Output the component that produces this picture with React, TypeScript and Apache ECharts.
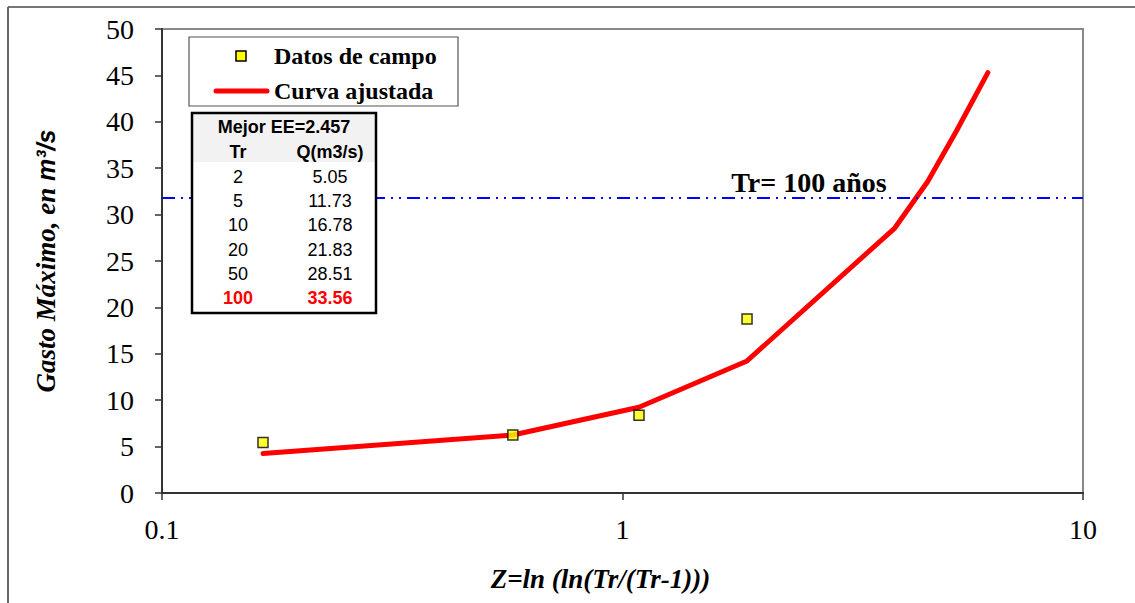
import React, { useEffect, useRef } from "react";
import * as echarts from "echarts";

// Field data (Datos de campo): Z vs Q
const dataZ = [0.1657, 0.578, 1.086, 1.864];
const dataQ = [5.43, 6.25, 8.38, 18.76];

// Fitted curve (Curva ajustada)
const curveZ = [0.1657, 0.578, 1.086, 1.864, 3.902, 4.6, 5.296, 6.214];
const curveQ = [4.25, 6.25, 9.24, 14.23, 28.55, 33.56, 38.9, 45.3];

// Tr = 100 years reference line
const tr100Q = 31.83;
const tr100LabelZ = 2.54;

// Table
const tableTitle = "Mejor EE=2.457";
const tableHeader = ["Tr", "Q(m3/s)"];
const tableTr = ["2", "5", "10", "20", "50", "100"];
const tableQ = ["5.05", "11.73", "16.78", "21.83", "28.51", "33.56"];

const SERIF = "'Liberation Serif', 'Times New Roman', serif";
const SANS = "'Liberation Sans', Arial, sans-serif";

export default function App() {
  const ref = useRef<HTMLDivElement>(null);

  useEffect(() => {
    if (!ref.current) return;
    const chart = echarts.init(ref.current, null, { renderer: "svg" });

    const TZ = 50;
    const tableTexts: any[] = [];
    const rowY0 = 177;
    const rowStep = 24.2;
    tableTr.forEach((tr, i) => {
      const last = i === tableTr.length - 1;
      const style = {
        fontFamily: SANS,
        fontSize: 18,
        fontWeight: last ? "bold" : "normal",
        fill: last ? "#ff0000" : "#000",
        align: "center",
        verticalAlign: "middle",
      };
      tableTexts.push({
        type: "text",
        x: 238,
        y: rowY0 + i * rowStep,
        z: TZ + 3,
        style: { ...style, text: tr },
      });
      tableTexts.push({
        type: "text",
        x: 330,
        y: rowY0 + i * rowStep,
        z: TZ + 3,
        style: { ...style, text: tableQ[i] },
      });
    });

    const option: any = {
      animation: false,
      backgroundColor: "#fff",
      grid: {
        left: 162,
        right: 52,
        top: 29,
        bottom: 110,
        show: true,
        borderColor: "#888",
        borderWidth: 2,
        backgroundColor: "transparent",
      },
      xAxis: {
        type: "log",
        logBase: 10,
        min: 0.1,
        max: 10,
        name: "Z=ln (ln(Tr/(Tr-1)))",
        nameLocation: "middle",
        nameGap: 72,
        nameTextStyle: {
          fontFamily: SERIF,
          fontStyle: "italic",
          fontWeight: "bold",
          fontSize: 27,
          color: "#000",
          padding: [0, 44, 0, 0],
        },
        axisLine: { show: true, onZero: false, lineStyle: { color: "#333", width: 2 } },
        axisTick: { show: true, inside: false, length: 7, lineStyle: { color: "#333", width: 1.5 } },
        minorTick: { show: false },
        splitLine: { show: false },
        axisLabel: {
          fontFamily: SERIF,
          fontSize: 28,
          color: "#000",
          margin: 22,
          formatter: (v: number) => {
            if (Math.abs(v - 0.1) < 1e-9) return "0.1";
            return String(Math.round(v));
          },
        },
      },
      yAxis: {
        type: "value",
        min: 0,
        max: 50,
        interval: 5,
        name: "{a|Gasto Máximo, en }{b|m³/s}",
        nameLocation: "middle",
        nameGap: 103,
        nameTextStyle: {
          rich: {
            a: {
              fontFamily: SERIF,
              fontStyle: "italic",
              fontWeight: "bold",
              fontSize: 27,
              color: "#000",
            },
            b: {
              fontFamily: SANS,
              fontStyle: "italic",
              fontWeight: "bold",
              fontSize: 25,
              color: "#000",
            },
          },
        },
        axisLine: { show: true, lineStyle: { color: "#333", width: 2 } },
        axisTick: { show: true, inside: false, length: 7, lineStyle: { color: "#333", width: 1.5 } },
        splitLine: { show: false },
        axisLabel: {
          fontFamily: SERIF,
          fontSize: 28,
          color: "#000",
          margin: 28,
        },
      },
      series: [
        {
          name: "Curva ajustada",
          type: "line",
          data: curveZ.map((z, i) => [z, curveQ[i]]),
          symbol: "none",
          lineStyle: { color: "#ff0000", width: 5, cap: "round", join: "round" },
          z: 3,
          markLine: {
            silent: true,
            symbol: ["none", "none"],
            label: { show: false },
            lineStyle: { color: "#0000ff", width: 2, type: [13, 6, 2, 6, 2, 6] },
            data: [{ yAxis: tr100Q }],
          },
          markPoint: {
            silent: true,
            symbol: "circle",
            symbolSize: 0,
            data: [
              {
                coord: [tr100LabelZ, tr100Q],
                label: {
                  show: true,
                  position: "top",
                  distance: 1,
                  formatter: "Tr= 100 años",
                  fontFamily: SERIF,
                  fontWeight: "bold",
                  fontSize: 28,
                  color: "#000",
                },
              },
            ],
          },
        },
        {
          name: "Datos de campo",
          type: "scatter",
          data: dataZ.map((z, i) => [z, dataQ[i]]),
          symbol: "rect",
          symbolSize: 10,
          itemStyle: { color: "#ffff00", borderColor: "#000", borderWidth: 1.5 },
          z: 5,
        },
      ],
      graphic: {
        z: 100,
        elements: [
          // outer frame (left and top edges)
          {
            type: "line",
            shape: { x1: 8, y1: 7, x2: 1135, y2: 7 },
            style: { stroke: "#777", lineWidth: 2 },
          },
          {
            type: "line",
            shape: { x1: 8, y1: 7, x2: 8, y2: 603 },
            style: { stroke: "#666", lineWidth: 2 },
          },
          // legend box
          {
            type: "rect",
            z: TZ,
            shape: { x: 189, y: 37, width: 269, height: 69 },
            style: { fill: "#fff", stroke: "#555", lineWidth: 1.2 },
          },
          {
            type: "rect",
            z: TZ + 1,
            shape: { x: 236, y: 51, width: 10, height: 10 },
            style: { fill: "#ffff00", stroke: "#000", lineWidth: 1.5 },
          },
          {
            type: "text",
            z: TZ + 1,
            x: 274,
            y: 56,
            style: {
              text: "Datos de campo",
              fontFamily: SERIF,
              fontWeight: "bold",
              fontSize: 24,
              fill: "#000",
              verticalAlign: "middle",
            },
          },
          {
            type: "line",
            z: TZ + 1,
            shape: { x1: 216, y1: 91, x2: 267, y2: 91 },
            style: { stroke: "#ff0000", lineWidth: 5, lineCap: "round" },
          },
          {
            type: "text",
            z: TZ + 1,
            x: 274,
            y: 91,
            style: {
              text: "Curva ajustada",
              fontFamily: SERIF,
              fontWeight: "bold",
              fontSize: 24,
              fill: "#000",
              verticalAlign: "middle",
            },
          },
          // table
          {
            type: "rect",
            z: TZ,
            shape: { x: 192, y: 113, width: 184, height: 200 },
            style: { fill: "#fff", stroke: "none" },
          },
          {
            type: "rect",
            z: TZ + 1,
            shape: { x: 192, y: 113, width: 184, height: 49 },
            style: { fill: "#f2f2f2", stroke: "none" },
          },
          {
            type: "rect",
            z: TZ + 2,
            shape: { x: 192, y: 113, width: 184, height: 200 },
            style: { fill: "none", stroke: "#000", lineWidth: 2.5 },
          },
          {
            type: "text",
            z: TZ + 3,
            x: 284,
            y: 127,
            style: {
              text: tableTitle,
              fontFamily: SANS,
              fontWeight: "bold",
              fontSize: 18,
              fill: "#000",
              align: "center",
              verticalAlign: "middle",
            },
          },
          {
            type: "text",
            z: TZ + 3,
            x: 238,
            y: 152,
            style: {
              text: tableHeader[0],
              fontFamily: SANS,
              fontWeight: "bold",
              fontSize: 18,
              fill: "#000",
              align: "center",
              verticalAlign: "middle",
            },
          },
          {
            type: "text",
            z: TZ + 3,
            x: 330,
            y: 152,
            style: {
              text: tableHeader[1],
              fontFamily: SANS,
              fontWeight: "bold",
              fontSize: 18,
              fill: "#000",
              align: "center",
              verticalAlign: "middle",
            },
          },
          ...tableTexts,
        ],
      },
    };

    chart.setOption(option);
    return () => chart.dispose();
  }, []);

  return (
    <div
      ref={ref}
      style={{ position: "fixed", left: 0, top: 0, width: 1135, height: 603, background: "#fff" }}
    />
  );
}
